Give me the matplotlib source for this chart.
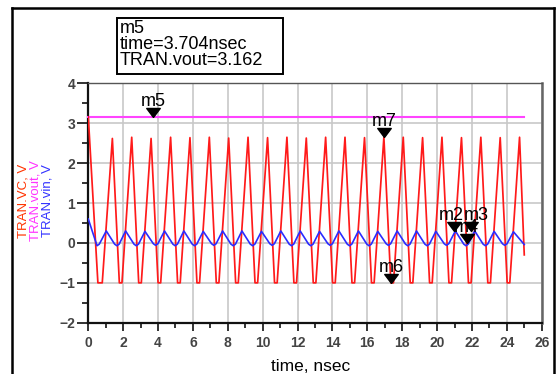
import matplotlib
matplotlib.use("Agg")
import matplotlib.pyplot as plt
from matplotlib.lines import Line2D
from matplotlib.patches import Rectangle
from matplotlib.ticker import MultipleLocator

plt.rcParams['font.family'] = ['Liberation Sans', 'DejaVu Sans']

# ---------------- data ----------------
# TRAN.vout (constant)
vout_t = [0.0, 25.0]
vout_v = [3.162, 3.162]

# TRAN.VC : start value, then per cycle: trough start, trough end (clipped at -1), peak
vc_start = (0.0, 3.16)
vc_trough_start = [0.55, 1.78, 2.89, 4.00, 5.12, 6.23, 7.34, 8.45, 9.56, 10.68, 11.79,
                   12.90, 14.01, 15.12, 16.24, 17.35, 18.46, 19.57, 20.68, 21.80, 22.91, 24.02]
vc_trough_end = [0.80, 1.93, 3.04, 4.15, 5.27, 6.38, 7.49, 8.60, 9.71, 10.83, 11.94,
                 13.05, 14.16, 15.27, 16.39, 17.50, 18.61, 19.72, 20.83, 21.95, 23.06, 24.17]
vc_trough_v = [-1.0, -1.0, -1.0, -1.0, -1.0, -1.0, -1.0, -1.0, -1.0, -1.0, -1.0,
               -1.0, -1.0, -1.0, -1.0, -1.0, -1.0, -1.0, -1.0, -1.0, -1.0, -1.0]
vc_peak_t = [1.38, 2.49, 3.60, 4.72, 5.83, 6.94, 8.05, 9.16, 10.28, 11.39, 12.50,
             13.61, 14.72, 15.84, 16.95, 18.06, 19.17, 20.28, 21.40, 22.51, 23.62, 24.73]
vc_peak_v = [2.62, 2.65, 2.62, 2.65, 2.64, 2.65, 2.63, 2.65, 2.64, 2.65, 2.63,
             2.65, 2.65, 2.64, 2.65, 2.65, 2.64, 2.65, 2.64, 2.65, 2.64, 2.65]
vc_end = (25.0, -0.30)

# TRAN.vin : start value, then per cycle trough and peak
vin_start = (0.0, 0.60)
vin_trough_t = [0.50, 1.64, 2.75, 3.86, 4.98, 6.09, 7.20, 8.31, 9.42, 10.54, 11.65,
                12.76, 13.87, 14.98, 16.10, 17.21, 18.32, 19.43, 20.54, 21.66, 22.77, 23.88]
vin_trough_v = [-0.07, -0.07, -0.07, -0.06, -0.07, -0.07, -0.06, -0.07, -0.07, -0.06, -0.07,
                -0.07, -0.06, -0.07, -0.07, -0.06, -0.07, -0.07, -0.06, -0.07, -0.07, -0.06]
vin_peak_t = [1.03, 2.14, 3.25, 4.37, 5.48, 6.59, 7.70, 8.81, 9.93, 11.04, 12.15,
              13.26, 14.37, 15.49, 16.60, 17.71, 18.82, 19.93, 21.05, 22.16, 23.27, 24.38]
vin_peak_v = [0.30, 0.30, 0.29, 0.30, 0.30, 0.29, 0.30, 0.30, 0.29, 0.30, 0.30,
              0.29, 0.30, 0.30, 0.29, 0.30, 0.30, 0.29, 0.30, 0.30, 0.29, 0.28]
# rounded bottom of each vin trough: half-width (ns) and rise (V) of the shoulders
vin_round_dt = 0.13
vin_round_dv = 0.04
vin_end = (25.0, -0.04)

# markers
mk_names = ['m5', 'm7', 'm6', 'm2', 'm3', 'm4']
mk_t = [3.704, 16.95, 17.36, 20.95, 21.93, 21.70]
mk_v = [3.162, 2.65, -1.0, 0.30, 0.30, 0.0]
mk_dx = [0, 0, 0, -2, 4, 0]

info_lines = ['m5', 'time=3.704nsec', 'TRAN.vout=3.162']

# ---------------- build polylines ----------------
vc_t = [vc_start[0]]
vc_v = [vc_start[1]]
for ts, te, tv, pt, pv in zip(vc_trough_start, vc_trough_end, vc_trough_v, vc_peak_t, vc_peak_v):
    vc_t += [ts, te, pt]
    vc_v += [tv, tv, pv]
vc_t.append(vc_end[0]); vc_v.append(vc_end[1])

vin_t = [vin_start[0]]
vin_v = [vin_start[1]]
for i, (tt, tv, pt, pv) in enumerate(zip(vin_trough_t, vin_trough_v, vin_peak_t, vin_peak_v)):
    if i == 0:
        vin_t += [tt, tt + vin_round_dt, pt]
        vin_v += [tv, tv + vin_round_dv, pv]
    else:
        vin_t += [tt - vin_round_dt, tt, tt + vin_round_dt, pt]
        vin_v += [tv + vin_round_dv, tv, tv + vin_round_dv, pv]
vin_t.append(vin_end[0]); vin_v.append(vin_end[1])

# ---------------- figure ----------------
W, H = 556, 374
fig = plt.figure(figsize=(W / 100, H / 100), dpi=100)
ax = fig.add_axes([88.3 / W, 1 - 322.7 / H, (541.7 - 88.3) / W, (322.7 - 83.4) / H])

ax.set_xlim(0, 26)
ax.set_ylim(-2, 4)
ax.xaxis.set_major_locator(MultipleLocator(2))
ax.xaxis.set_minor_locator(MultipleLocator(1))
ax.yaxis.set_major_locator(MultipleLocator(1))
ax.yaxis.set_minor_locator(MultipleLocator(0.5))
ax.grid(True, which='major', color='#c8c8c8', lw=1.2, zorder=0)
ax.set_axisbelow(True)

ax.tick_params(axis='y', which='major', direction='out', length=8, width=1.4,
               pad=1.5, labelsize=10, labelcolor='#444444', color='#333333')
ax.tick_params(axis='y', which='minor', direction='out', length=4.5, width=1.4, color='#333333')
ax.tick_params(axis='x', which='major', direction='out', length=5.5, width=1.4,
               pad=4, labelsize=10, labelcolor='#444444', color='#333333')
ax.tick_params(axis='x', which='minor', direction='out', length=3.5, width=1.4, color='#333333')
for lab in ax.get_xticklabels() + ax.get_yticklabels():
    lab.set_fontweight('bold')

ax.spines['left'].set_color('#111111'); ax.spines['left'].set_linewidth(1.6)
ax.spines['bottom'].set_color('#111111'); ax.spines['bottom'].set_linewidth(1.6)
ax.spines['right'].set_color('#666666'); ax.spines['right'].set_linewidth(1.8)
ax.spines['top'].set_color('#555555'); ax.spines['top'].set_linewidth(1.0)

ax.plot(vout_t, vout_v, color='#ff44ff', lw=1.5, zorder=3, clip_on=False)
ax.plot(vc_t, vc_v, color='#ff1a1a', lw=1.25, zorder=4)
ax.plot(vin_t, vin_v, color='#2b2bff', lw=1.2, zorder=5)

tri = [(0, 0), (-0.75, 1.0), (0.75, 1.0), (0, 0)]
for name, t, v, dx in zip(mk_names, mk_t, mk_v, mk_dx):
    ax.plot([t], [v], marker=tri, markersize=13, color='black', ls='none', zorder=7)
    ax.annotate(name, xy=(t, v), xytext=(dx, 8), textcoords='offset points',
                ha='center', va='baseline', fontsize=13, color='black', zorder=6)

# y labels (three stacked, rotated)
ylabels = ['TRAN.VC, V', 'TRAN.vout, V', 'TRAN.vin, V']
ycolors = ['#ff3300', '#ff33ff', '#3333ff']
yxs = [23.5, 35.0, 47.0]
for lab, c, x in zip(ylabels, ycolors, yxs):
    fig.text(x / W, 1 - 201 / H, lab, rotation=90, ha='center', va='center',
             fontsize=9.5, color=c)

fig.text(311 / W, 1 - 371 / H, 'time, nsec', ha='center', va='baseline',
         fontsize=12.5, color='black')

# marker info box
fig.add_artist(Rectangle((116.8 / W, 1 - 74 / H), (282.5 - 116.8) / W, (74 - 18.5) / H,
                         transform=fig.transFigure, fill=False, ec='black', lw=1.4))
for line, yc in zip(info_lines, [28.5, 44.5, 60.5]):
    fig.text(120 / W, 1 - yc / H, line, ha='left', va='center', fontsize=13, color='black')

# outer frame
fr = dict(transform=fig.transFigure, color='black', lw=1.8)
fig.add_artist(Line2D([12 / W, 554 / W], [1 - 8 / H, 1 - 8 / H], **fr))
fig.add_artist(Line2D([12 / W, 12 / W], [1 - 8 / H, -0.02], **fr))
fig.add_artist(Line2D([554 / W, 554 / W], [1 - 8 / H, -0.02], **fr))

fig.savefig('out.png', dpi=100)
